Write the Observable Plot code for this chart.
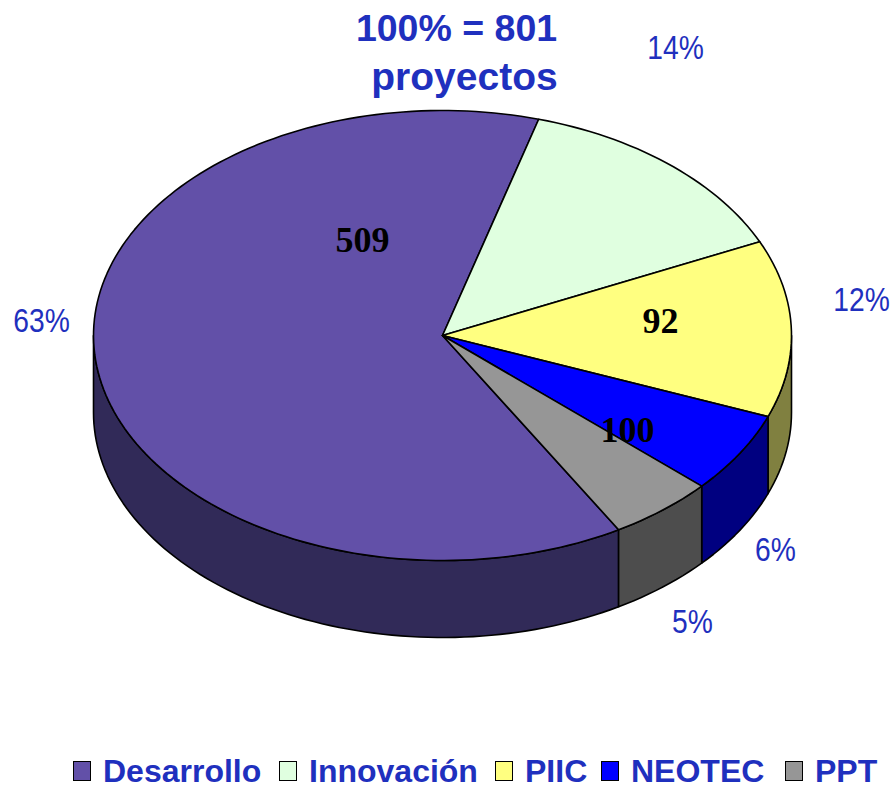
<!DOCTYPE html>
<html>
<head>
<meta charset="utf-8">
<script src="https://cdn.jsdelivr.net/npm/d3@7"></script>
<script src="https://cdn.jsdelivr.net/npm/@observablehq/plot@0.6"></script>
<style>
html,body{margin:0;padding:0;background:#fff;overflow:hidden}
#chart svg{display:block}
#legend{position:relative;height:40px;font:bold 32px/30px "Liberation Sans",Arial,sans-serif;color:#1F30BE;white-space:nowrap}
#legend .item{position:absolute;top:6px;height:30px;display:flex;align-items:center}
#legend .sw{width:16px;height:18px;border:1.5px solid #000;margin-right:12px;display:inline-block}
</style>
</head>
<body>
<div id="chart"></div>
<div id="legend"></div>
<script>
// Data
const categories = ["Desarrollo", "Innovación", "PIIC", "NEOTEC", "PPT"];
const shareLabels = ["63%", "14%", "12%", "6%", "5%"];
const sliceShares = [62.8, 13.7, 12.7, 5.8, 4.9];
const sliceValueLabels = ["509", "92", "100"];
const titleLines = ["100% = 801", "proyectos"];

// Styles
const topColors = ["#6250A8", "#E0FFE0", "#FFFF80", "#0000FF", "#969696"];
const sideColors = ["#312A58", "#E0FFE0", "#808040", "#000080", "#4D4D4D"];
const textBlue = "#1F30BE";
const titleSizes = [37.5, 39];

// Layout: pie centre/radii in pixels, everything else in unit-circle space
const cx = 442, cy = 335, rx = 349, ry = 225, depthPx = 77;
const depth = depthPx / ry;
const firstBoundary = 16; // clockwise degrees from top where Innovación starts
const spot = (px, py) => ({x: (px - cx) / rx, y: (py - cy) / ry});
const shareSpots = [[41, 321], [675, 48], [861, 300], [775, 550], [692, 622]].map(p => spot(...p));
const valueSpots = [[362, 240], [660, 321], [627, 430]].map(p => spot(...p));
const titleSpots = [[456, 28], [464, 77]].map(p => spot(...p));
const legendLefts = [73, 279, 495, 601, 785];

const total = d3.sum(sliceShares);
const rad = d => d * Math.PI / 180;
const pt = (deg, dy = 0) => ({x: Math.sin(rad(deg)), y: -Math.cos(rad(deg)) + dy});
const arc = (a, b, dy = 0) => {
  const n = Math.max(2, Math.ceil(Math.abs(b - a) / 1.5));
  return d3.range(n + 1).map(i => pt(a + (b - a) * i / n, dy));
};

// slice angle spans: Desarrollo ends where Innovación begins
let start = firstBoundary - sliceShares[0] / total * 360;
const spans = sliceShares.map(s => {
  const a = start, b = start + s / total * 360;
  start = b;
  return [a, b];
});

const topRows = [];
const wallRows = [];
categories.forEach((c, i) => {
  const [a, b] = spans[i];
  const ring = [{x: 0, y: 0}, ...arc(a, b), {x: 0, y: 0}];
  ring.forEach(p => topRows.push({...p, key: c, color: topColors[i]}));
  for (const [lo, hi] of [[90, 270], [-270, -90]]) {
    const s = Math.max(a, lo), e = Math.min(b, hi);
    if (e > s) {
      const wall = [...arc(s, e), ...arc(e, s, depth)];
      wall.push(wall[0]);
      wall.forEach(p => wallRows.push({...p, key: c + lo, color: sideColors[i]}));
    }
  }
});
const shareRows = shareLabels.map((t, i) => ({t, ...shareSpots[i]}));
const valueRows = sliceValueLabels.map((t, i) => ({t, ...valueSpots[i]}));
const titleRows = titleLines.map((t, i) => ({t, size: titleSizes[i], ...titleSpots[i]}));

const chart = Plot.plot({
  width: 893, height: 750,
  margin: 0,
  x: {domain: [-1, 1], range: [cx - rx, cx + rx], axis: null},
  y: {domain: [-1, 1], range: [cy - ry, cy + ry], axis: null},
  color: {type: "identity"},
  marks: [
    Plot.line(wallRows, {x: "x", y: "y", z: "key", fill: "color", stroke: "#000", strokeWidth: 1.6, curve: "linear"}),
    Plot.line(topRows, {x: "x", y: "y", z: "key", fill: "color", stroke: "#000", strokeWidth: 1.6, curve: "linear"}),
    Plot.text(valueRows, {x: "x", y: "y", text: "t", fill: "#000", fontSize: 36, fontWeight: "bold", fontFamily: "Liberation Serif"}),
    Plot.text(shareRows, {x: "x", y: "y", text: "t", fill: textBlue, fontSize: 34, fontFamily: "Liberation Sans", className: "share-label"}),
    Plot.text(titleRows, {x: "x", y: "y", text: "t", fill: textBlue, fontSize: d => d.size, fontWeight: "bold", fontFamily: "Liberation Sans"})
  ]
});
document.getElementById("chart").appendChild(chart);

// The reference uses a condensed face for the percent labels
chart.querySelectorAll(".share-label text").forEach(el => {
  el.setAttribute("transform", (el.getAttribute("transform") || "") + " scale(0.83,1)");
});

const legend = document.getElementById("legend");
categories.forEach((c, i) => {
  const item = document.createElement("span");
  item.className = "item";
  item.style.left = legendLefts[i] + "px";
  const sw = document.createElement("span");
  sw.className = "sw";
  sw.style.background = topColors[i];
  item.appendChild(sw);
  item.appendChild(document.createTextNode(c));
  legend.appendChild(item);
});
</script>
</body>
</html>
